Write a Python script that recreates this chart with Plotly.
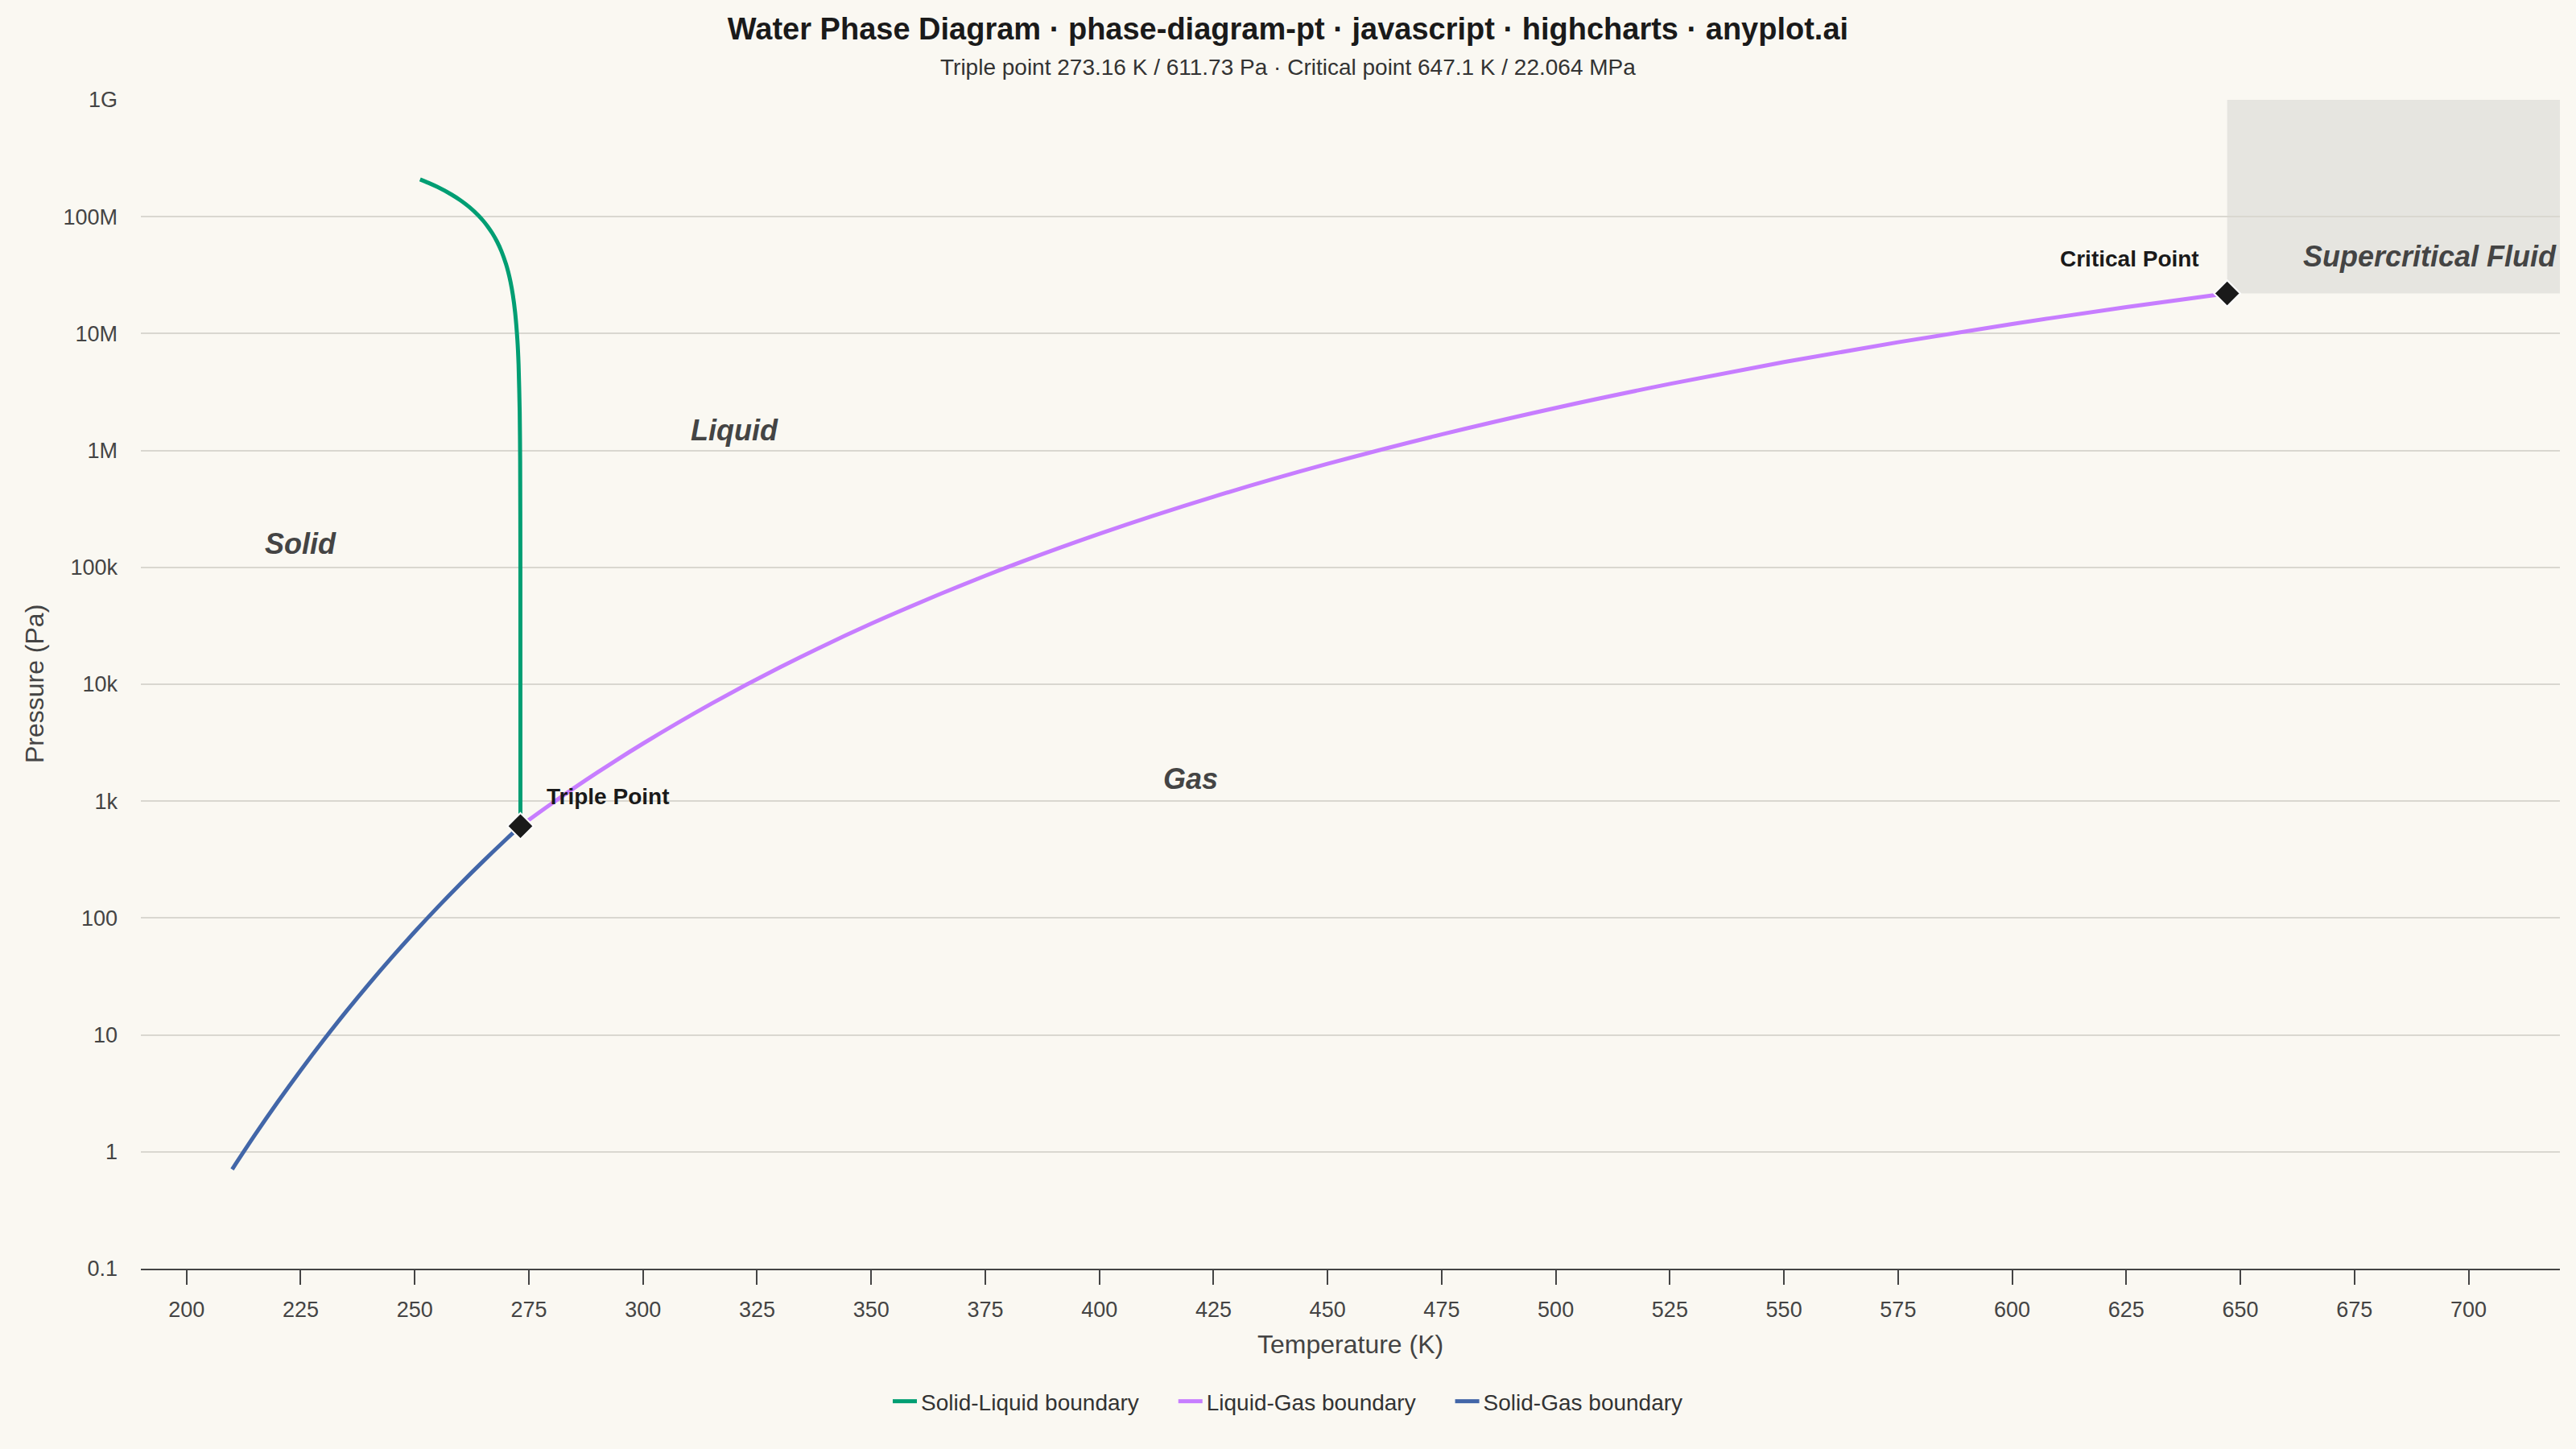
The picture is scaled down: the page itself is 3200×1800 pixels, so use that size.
import numpy as np
import plotly.graph_objects as go

# Boundary curves (temperature in K, pressure in Pa)
sl_temp = [273.16, 273.15, 273.1, 273.0, 272.75, 272.5, 272.0, 271.5, 271.0, 270.5, 270.0, 269.0,
           268.0, 267.0, 266.0, 265.0, 264.0, 262.0, 260.0, 258.0, 255.0, 253.0, 251.165]
sl_pres = [611.73, 1.35e5, 8.07e5, 2.145e6, 5.458e6, 8.73e6, 15.14e6, 21.39e6, 27.5e6, 33.47e6, 39.3e6, 50.66e6,
           61.6e6, 72.17e6, 82.4e6, 92.3e6, 102.0e6, 120.6e6, 138.3e6, 155.2e6, 179.4e6, 194.9e6, 208.6e6]

lg_temp = [273.16, 280, 290, 300, 315, 330, 350, 375, 400, 425, 450, 475, 500, 525,
           550, 575, 600, 625, 647.1]
lg_pres = [611.73, 953.3, 1755.9, 3105.4, 6824, 13960, 32955, 84770, 193760, 401900, 768500,
           1372800, 2314000, 3711400, 5702200, 8439700, 12089700, 16828000, 22064000]

sg_temp = [210, 215, 220, 225, 230, 235, 240, 245, 250, 255, 260, 265, 270, 273.16]
sg_pres = [0.708, 1.397, 2.674, 4.974, 9.003, 15.89, 27.39, 46.17, 76.23, 123.4, 196.1, 306.1, 470.2, 611.73]

# Special points
triple_t, triple_p = 273.16, 611.73
critical_t, critical_p = 647.1, 22.064e6

# Region labels
region_names = ["Solid", "Liquid", "Gas", "Supercritical Fluid"]
region_temp = [225, 320, 420, 720]
region_pres = [1.6e5, 1.5e6, 1.55e3, 4.6e7]

# Axis ticks
y_tickvals = [0.1, 1, 10, 100, 1e3, 1e4, 1e5, 1e6, 1e7, 1e8, 1e9]
y_ticktext = ["0.1", "1", "10", "100", "1k", "10k", "100k", "1M", "10M", "100M", "1G"]

font = "Liberation Sans, Arial, sans-serif"
bg = "#FAF8F2"
pad = "\u00a0" * 5  # extra room between legend entries

fig = go.Figure()

# Boundary lines
fig.add_trace(go.Scatter(name="Solid-Liquid boundary" + pad, x=sl_temp, y=sl_pres, mode="lines",
                         line=dict(color="#009E73", width=5, shape="spline", smoothing=0.6)))
fig.add_trace(go.Scatter(name="Liquid-Gas boundary" + pad, x=lg_temp, y=lg_pres, mode="lines",
                         line=dict(color="#C77DFF", width=5, shape="spline")))
fig.add_trace(go.Scatter(name="Solid-Gas boundary", x=sg_temp, y=sg_pres, mode="lines",
                         line=dict(color="#4266A8", width=5, shape="spline")))

# Triple and critical point markers
fig.add_trace(go.Scatter(x=[triple_t, critical_t], y=[triple_p, critical_p], mode="markers",
                         showlegend=False, hoverinfo="skip",
                         marker=dict(symbol="diamond", size=25, color="#1A1A1A",
                                     line=dict(color="#FFFFFF", width=2))))

# Supercritical region shading
fig.add_shape(type="rect", xref="x", yref="y", layer="below",
              x0=critical_t, x1=720, y0=critical_p, y1=1e9,
              fillcolor="#E6E5E0", line=dict(width=0))

# Point labels
fig.add_annotation(x=triple_t, y=np.log10(triple_p), text="<b>Triple Point</b>", showarrow=False,
                   xanchor="left", yanchor="middle", xshift=30, yshift=37,
                   font=dict(family=font, size=28, color="#1A1A1A"))
fig.add_annotation(x=critical_t, y=np.log10(critical_p), text="<b>Critical Point</b>", showarrow=False,
                   xanchor="right", yanchor="middle", xshift=-33, yshift=43,
                   font=dict(family=font, size=28, color="#1A1A1A"))

# Region labels
for name, t, p in zip(region_names, region_temp, region_pres):
    fig.add_annotation(x=t, y=np.log10(p), text="<b><i>" + name + "</i></b>", showarrow=False,
                       xanchor="right" if name == "Supercritical Fluid" else "center",
                       yanchor="middle", xshift=-2 if name == "Supercritical Fluid" else 0,
                       font=dict(family=font, size=36, color="#444444"))

# Subtitle and axis titles
fig.add_annotation(xref="paper", yref="paper", x=0.47421, y=1.0279, showarrow=False,
                   text="Triple point 273.16 K / 611.73 Pa · Critical point 647.1 K / 22.064 MPa",
                   xanchor="center", yanchor="middle", font=dict(family=font, size=28, color="#333333"))
fig.add_annotation(xref="paper", yref="paper", x=0.5, y=-0.0644, showarrow=False,
                   text="Temperature (K)", xanchor="center", yanchor="middle",
                   font=dict(family=font, size=32, color="#444444"))
fig.add_annotation(xref="paper", yref="paper", x=-0.0439, y=0.5, showarrow=False, textangle=-90,
                   text="Pressure (Pa)", xanchor="center", yanchor="middle",
                   font=dict(family=font, size=32, color="#444444"))

fig.update_layout(
    width=3200, height=1800,
    paper_bgcolor=bg, plot_bgcolor=bg,
    margin=dict(l=175, r=20, t=124, b=224),
    font=dict(family=font, size=27, color="#444444"),
    title=dict(text="<b>Water Phase Diagram · phase-diagram-pt · javascript · highcharts · anyplot.ai</b>",
               x=0.5, xref="container", xanchor="center", y=1 - 36 / 1800, yanchor="middle",
               font=dict(family=font, size=38, color="#1A1A1A")),
    legend=dict(orientation="h", x=0.47421, xanchor="center", y=-0.1136, yanchor="middle",
                font=dict(family=font, size=28, color="#333333"), bgcolor="rgba(0,0,0,0)",
                itemwidth=30),
    showlegend=True,
)

fig.update_xaxes(range=[190, 720], tick0=200, dtick=25, showgrid=False, zeroline=False,
                 showline=True, linecolor="#444444", linewidth=2,
                 ticks="outside", ticklen=18, tickwidth=2, tickcolor="#444444",
                 ticklabelstandoff=8, tickfont=dict(family=font, size=27, color="#444444"))
fig.update_yaxes(type="log", range=[-1, 9], tickvals=y_tickvals, ticktext=y_ticktext,
                 showgrid=True, gridcolor="#D9D7D0", gridwidth=2, zeroline=False, showline=False,
                 ticks="", ticklabelstandoff=28, tickfont=dict(family=font, size=27, color="#444444"))

# Remove the page margin so the chart fills the window, and hide the toolbar
fig.write_html("out.html", config={"displayModeBar": False},
               post_script="document.body.style.margin='0';")
